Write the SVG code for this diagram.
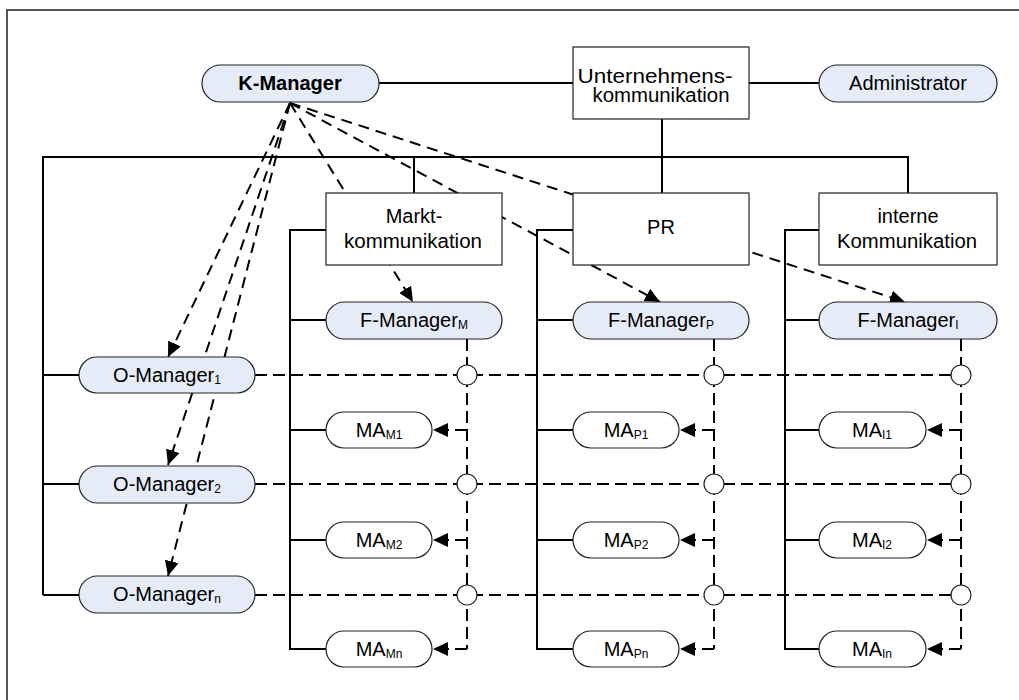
<svg xmlns="http://www.w3.org/2000/svg" width="1019" height="700" viewBox="0 0 1019 700">
<defs>
<marker id="ah" markerUnits="userSpaceOnUse" markerWidth="16" markerHeight="14" refX="15" refY="7" orient="auto">
<path d="M0,0 L15,7 L0,14 Z" fill="#000"/>
</marker>
<style>
.frame{fill:none;stroke:#555;stroke-width:2}
.solid{fill:none;stroke:#000;stroke-width:2}
.dash{fill:none;stroke:#000;stroke-width:2;stroke-dasharray:12,6}
.dsl{fill:none;stroke:#000;stroke-width:2;stroke-dasharray:11,7}
.blue{fill:#E6ECF7;stroke:#222;stroke-width:1.2}
.white{fill:#fff;stroke:#222;stroke-width:1.2}
.circ{fill:#fff;stroke:#222;stroke-width:1.2}
text{font-family:"Liberation Sans",Arial,sans-serif;font-size:20px;fill:#000;text-anchor:middle}
.b{font-weight:bold}
.s{font-size:12px}
.t{font-size:19.5px}
</style>
</defs>
<rect class="frame" x="7" y="10" width="1040" height="720"/>
<g id="connectors">
<path class="solid" d="M379,83 H573 M749,83 H819 M662,119 V193 M43,595 V157 H908 V193 M414,157 V193 M43,375 H79 M43,484 H79 M43,595 H79"/>
<path class="solid" d="M326,230 H290 V649 H326 M290,320 H326 M290,430 H326 M290,540 H326"/>
<path class="solid" d="M573,230 H537 V649 H573 M537,320 H573 M537,430 H573 M537,540 H573"/>
<path class="solid" d="M819,230 H785 V649 H819 M785,320 H819 M785,430 H819 M785,540 H819"/>
<path class="dsl" marker-end="url(#ah)" d="M290,103 L168,357"/>
<path class="dsl" marker-end="url(#ah)" d="M290,103 L168,465"/>
<path class="dsl" marker-end="url(#ah)" d="M290,103 L168,576"/>
<path class="dsl" marker-end="url(#ah)" d="M290,103 L413,302"/>
<path class="dsl" marker-end="url(#ah)" d="M290,103 L660,302"/>
<path class="dsl" marker-end="url(#ah)" d="M290,103 L905,302"/>
<path class="dash" d="M255,375 H961 M255,484 H961 M255,595 H961"/>
<path class="dash" d="M467,339 V649 M714,339 V649 M961,339 V649"/>
<path class="dash" marker-end="url(#ah)" d="M467,430 H433"/>
<path class="dash" marker-end="url(#ah)" d="M467,540 H433"/>
<path class="dash" marker-end="url(#ah)" d="M467,649 H433"/>
<path class="dash" marker-end="url(#ah)" d="M714,430 H680"/>
<path class="dash" marker-end="url(#ah)" d="M714,540 H680"/>
<path class="dash" marker-end="url(#ah)" d="M714,649 H680"/>
<path class="dash" marker-end="url(#ah)" d="M961,430 H927"/>
<path class="dash" marker-end="url(#ah)" d="M961,540 H927"/>
<path class="dash" marker-end="url(#ah)" d="M961,649 H927"/>
</g>
<g id="junctions">
<circle class="circ" cx="467" cy="375" r="10"/><circle class="circ" cx="714" cy="375" r="10"/><circle class="circ" cx="961" cy="375" r="10"/>
<circle class="circ" cx="467" cy="484" r="10"/><circle class="circ" cx="714" cy="484" r="10"/><circle class="circ" cx="961" cy="484" r="10"/>
<circle class="circ" cx="467" cy="595" r="10"/><circle class="circ" cx="714" cy="595" r="10"/><circle class="circ" cx="961" cy="595" r="10"/>
</g>
<g id="k-manager"><rect class="blue" x="202" y="65" width="177" height="37" rx="18.5"/><text class="b" x="290" y="90">K-Manager</text></g>
<g id="unternehmenskommunikation"><rect class="white" x="573" y="47" width="176" height="72"/><text class="t" x="655" y="83" textLength="155" lengthAdjust="spacingAndGlyphs">Unternehmens-</text><text class="t" x="661" y="102" textLength="137" lengthAdjust="spacingAndGlyphs">kommunikation</text></g>
<g id="administrator"><rect class="blue" x="819" y="65" width="178" height="37" rx="18.5"/><text x="908" y="90">Administrator</text></g>
<g id="marktkommunikation"><rect class="white" x="326" y="193" width="176" height="72"/><text x="414" y="223">Markt-</text><text x="413" y="248" textLength="138" lengthAdjust="spacingAndGlyphs">kommunikation</text></g>
<g id="pr"><rect class="white" x="573" y="193" width="176" height="72"/><text x="661" y="234">PR</text></g>
<g id="interne-kommunikation"><rect class="white" x="819" y="193" width="178" height="72"/><text x="908" y="223">interne</text><text x="907" y="248" textLength="140" lengthAdjust="spacingAndGlyphs">Kommunikation</text></g>
<g id="f-manager-m"><rect class="blue" x="326" y="302" width="176" height="37" rx="18.5"/><text x="414" y="327">F-Manager<tspan class="s" dy="2">M</tspan></text></g>
<g id="f-manager-p"><rect class="blue" x="573" y="302" width="176" height="37" rx="18.5"/><text x="661" y="327">F-Manager<tspan class="s" dy="2">P</tspan></text></g>
<g id="f-manager-i"><rect class="blue" x="819" y="302" width="178" height="37" rx="18.5"/><text x="908" y="327">F-Manager<tspan class="s" dy="2">I</tspan></text></g>
<g id="o-manager-1"><rect class="blue" x="79" y="357" width="176" height="36" rx="18"/><text x="167" y="382">O-Manager<tspan class="s" dy="2">1</tspan></text></g>
<g id="o-manager-2"><rect class="blue" x="79" y="466" width="176" height="37" rx="18.5"/><text x="167" y="491">O-Manager<tspan class="s" dy="2">2</tspan></text></g>
<g id="o-manager-n"><rect class="blue" x="79" y="576" width="176" height="37" rx="18.5"/><text x="167" y="601">O-Manager<tspan class="s" dy="2">n</tspan></text></g>
<g id="ma-m1"><rect class="white" x="326" y="412" width="106" height="36" rx="18"/><text x="379" y="437">MA<tspan class="s" dy="2">M1</tspan></text></g>
<g id="ma-m2"><rect class="white" x="326" y="522" width="106" height="36" rx="18"/><text x="379" y="547">MA<tspan class="s" dy="2">M2</tspan></text></g>
<g id="ma-mn"><rect class="white" x="326" y="631" width="106" height="36" rx="18"/><text x="379" y="656">MA<tspan class="s" dy="2">Mn</tspan></text></g>
<g id="ma-p1"><rect class="white" x="573" y="412" width="106" height="36" rx="18"/><text x="626" y="437">MA<tspan class="s" dy="2">P1</tspan></text></g>
<g id="ma-p2"><rect class="white" x="573" y="522" width="106" height="36" rx="18"/><text x="626" y="547">MA<tspan class="s" dy="2">P2</tspan></text></g>
<g id="ma-pn"><rect class="white" x="573" y="631" width="106" height="36" rx="18"/><text x="626" y="656">MA<tspan class="s" dy="2">Pn</tspan></text></g>
<g id="ma-i1"><rect class="white" x="819" y="412" width="107" height="36" rx="18"/><text x="872" y="437">MA<tspan class="s" dy="2">I1</tspan></text></g>
<g id="ma-i2"><rect class="white" x="819" y="522" width="107" height="36" rx="18"/><text x="872" y="547">MA<tspan class="s" dy="2">I2</tspan></text></g>
<g id="ma-in"><rect class="white" x="819" y="631" width="107" height="36" rx="18"/><text x="872" y="656">MA<tspan class="s" dy="2">In</tspan></text></g>
</svg>
